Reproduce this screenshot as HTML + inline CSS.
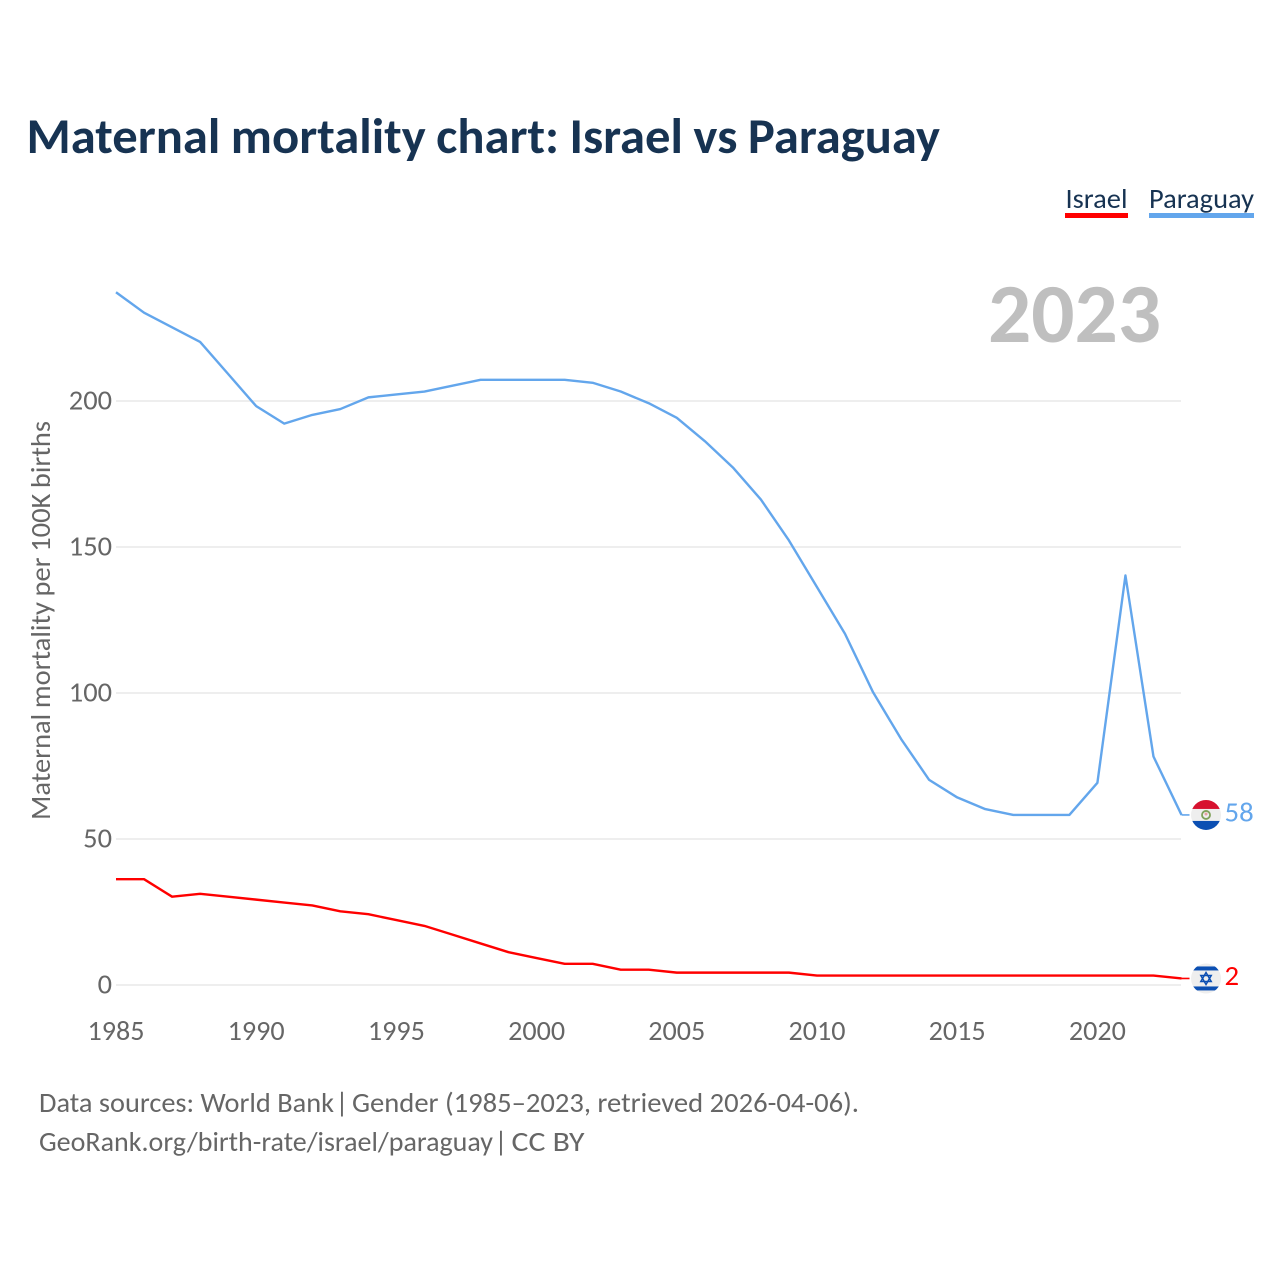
<!DOCTYPE html>
<html lang="en">
<head>
<meta charset="utf-8">
<title>Maternal mortality chart: Israel vs Paraguay</title>
<style>
html,body{margin:0;padding:0;background:#fff;width:1280px;height:1280px;overflow:hidden}
svg{display:block}
text{font-family:"Carlito","Lato","Liberation Sans",sans-serif}
</style>
</head>
<body>
<svg id="chart" width="1280" height="1280" viewBox="0 0 1280 1280" xmlns="http://www.w3.org/2000/svg">
  <defs>
    <clipPath id="flag-clip"><circle cx="0" cy="0" r="15"></circle></clipPath>
  </defs>
  <text x="26.5" y="153" font-size="50" font-weight="700" fill="#173352" word-spacing="-1" textLength="913.5" lengthAdjust="spacingAndGlyphs">Maternal mortality chart: Israel vs Paraguay</text>

  <g>
    <text x="1065.5" y="208" font-size="28" fill="#173352" textLength="62" lengthAdjust="spacingAndGlyphs">Israel</text>
    <rect x="1065" y="213" width="63" height="5" fill="#ff0000"></rect>
  </g>
  <g>
    <text x="1149" y="208" font-size="28" fill="#173352" textLength="105" lengthAdjust="spacingAndGlyphs">Paraguay</text>
    <rect x="1149" y="213" width="105" height="5" fill="#63a6ec"></rect>
  </g>

  <text x="988" y="342" font-size="84" font-weight="700" fill="#bfbfbf" textLength="173" lengthAdjust="spacingAndGlyphs">2023</text>

  <g id="grid"></g>
  <g id="yticks"></g>
  <g id="xticks"></g>

  <text transform="translate(50,820) rotate(-90)" font-size="28" fill="#666666" word-spacing="-0.8" textLength="399" lengthAdjust="spacingAndGlyphs">Maternal mortality per 100K births</text>

  <g id="series"></g>

  <g font-size="28" fill="#666666">
    <text x="39" y="1112" textLength="295" lengthAdjust="spacingAndGlyphs">Data sources: World Bank</text>
    <text x="342" y="1112" text-anchor="middle">|</text>
    <text x="352" y="1112" textLength="507" lengthAdjust="spacingAndGlyphs">Gender (1985–2023, retrieved 2026-04-06).</text>
  </g>
  <g font-size="28" fill="#666666">
    <text x="39" y="1151" textLength="454" lengthAdjust="spacingAndGlyphs">GeoRank.org/birth-rate/israel/paraguay</text>
    <text x="501" y="1151" text-anchor="middle">|</text>
    <text x="511.5" y="1151" textLength="73" lengthAdjust="spacingAndGlyphs">CC BY</text>
  </g>
</svg>
<script>
const years = [1985,1986,1987,1988,1989,1990,1991,1992,1993,1994,1995,1996,1997,1998,1999,2000,2001,2002,2003,2004,2005,2006,2007,2008,2009,2010,2011,2012,2013,2014,2015,2016,2017,2018,2019,2020,2021,2022,2023];
const israelValues = [36,36,30,31,30,29,28,27,25,24,22,20,17,14,11,9,7,7,5,5,4,4,4,4,4,3,3,3,3,3,3,3,3,3,3,3,3,3,2];
const paraguayValues = [237,230,225,220,209,198,192,195,197,201,202,203,205,207,207,207,207,206,203,199,194,186,177,166,152,136,120,100,84,70,64,60,58,58,58,69,140,78,58];
const yTickValues = [0,50,100,150,200];
const xTickValues = [1985,1990,1995,2000,2005,2010,2015,2020];

const NS = 'http://www.w3.org/2000/svg';
const xScale = function (year) { return 116 + (year - 1985) * 28.04; };
const yScale = function (value) { return 985 - value * 2.92; };
const lineOffsetY = -0.7;

function make(tag, attrs, parent) {
  const el = document.createElementNS(NS, tag);
  Object.keys(attrs).forEach(function (k) { el.setAttribute(k, attrs[k]); });
  parent.appendChild(el);
  return el;
}

const gridLayer = document.getElementById('grid');
const yLayer = document.getElementById('yticks');
const xLayer = document.getElementById('xticks');
const seriesLayer = document.getElementById('series');

yTickValues.forEach(function (v) {
  const line = make('line', {x1: 116, x2: 1181, y1: yScale(v), y2: yScale(v), stroke: '#eeeeee', 'stroke-width': 2}, gridLayer);
  
  
  const label = make('text', {x: 112, y: yScale(v) + 8.5, 'text-anchor': 'end', 'font-size': 28, fill: '#666666', textLength: String(v).length * 14.4, lengthAdjust: 'spacingAndGlyphs'}, yLayer);
  
  
  label.textContent = v;
});

xTickValues.forEach(function (y) {
  const label = make('text', {x: xScale(y), y: 1040, 'text-anchor': 'middle', 'font-size': 28, fill: '#666666', textLength: 57, lengthAdjust: 'spacingAndGlyphs'}, xLayer);
  
  
  label.textContent = y;
});

function drawSeries(values, color, name) {
  const pts = values.map(function (v, i) { return xScale(years[i]).toFixed(2) + ',' + (yScale(v) + lineOffsetY).toFixed(2); }).join(' ');
  const line = make('polyline', {points: pts, fill: 'none', stroke: color, 'stroke-width': 2.4, 'stroke-linejoin': 'round'}, seriesLayer);
  
  

  const last = values[values.length - 1];
  const lastX = xScale(years[years.length - 1]);
  const lastY = yScale(last) + lineOffsetY;
  const connector = make('line', {x1: lastX, y1: lastY, x2: lastX + 8, y2: lastY, stroke: color, 'stroke-width': 1.6}, seriesLayer);
  
  

  const flag = make('g', {transform: 'translate(' + (lastX + 24.5) + ',' + lastY + ')', 'clip-path': 'url(#flag-clip)'}, seriesLayer);
  
  
  make('rect', {x: -16, y: -16, width: 32, height: 32, fill: '#eeeeee'}, flag);
  if (name === 'paraguay') {
    make('rect', {x: -16, y: -16, width: 32, height: 10, fill: '#d7122f'}, flag);
    make('rect', {x: -16, y: 6, width: 32, height: 10, fill: '#0b4fb3'}, flag);
    make('circle', {cx: 0, cy: 0, r: 4, fill: 'none', stroke: '#7fa05a', 'stroke-width': 1.8}, flag);
    make('circle', {cx: 0, cy: -1, r: 1.5, fill: '#e8a0a0'}, flag);
  } else {
    make('rect', {x: -16, y: -12, width: 32, height: 4, fill: '#0b4fb3'}, flag);
    make('rect', {x: -16, y: 8, width: 32, height: 4, fill: '#0b4fb3'}, flag);
    make('polygon', {points: '0,-6 5.2,3 -5.2,3', fill: 'none', stroke: '#0b4fb3', 'stroke-width': 1.5}, flag);
    make('polygon', {points: '0,6 5.2,-3 -5.2,-3', fill: 'none', stroke: '#0b4fb3', 'stroke-width': 1.5}, flag);
  }

  const label = make('text', {x: lastX + 43, y: lastY + 6.5, 'font-size': 28, fill: color, textLength: String(last).length * 14.6, lengthAdjust: 'spacingAndGlyphs'}, seriesLayer);
  
  
  label.textContent = last;
}

drawSeries(paraguayValues, '#63a6ec', 'paraguay');
drawSeries(israelValues, '#ff0000', 'israel');
</script>
</body>
</html>
